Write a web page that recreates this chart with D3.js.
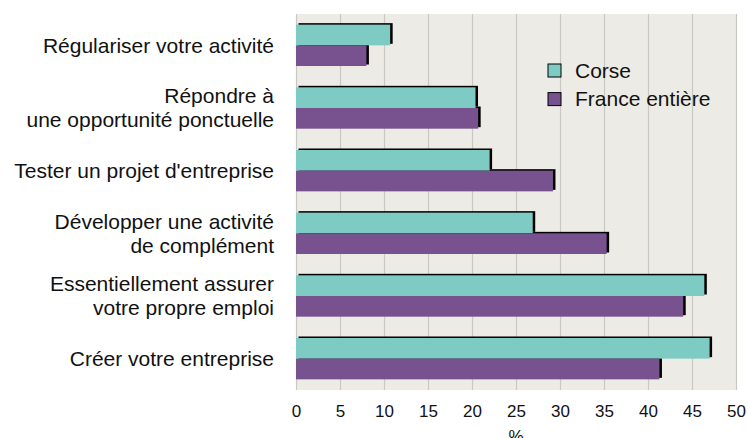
<!DOCTYPE html>
<html>
<head>
<meta charset="utf-8">
<script src="https://cdn.jsdelivr.net/npm/d3@7"></script>
<style>
  body { margin: 0; background: #fff; }
  text { font-family: "Liberation Sans", Arial, Helvetica, sans-serif; fill: #111; }
</style>
</head>
<body>
<svg id="chart"></svg>
<script>
// data
var categories = [
  ["Régulariser votre activité"],
  ["Répondre à", "une opportunité ponctuelle"],
  ["Tester un projet d'entreprise"],
  ["Développer une activité", "de complément"],
  ["Essentiellement assurer", "votre propre emploi"],
  ["Créer votre entreprise"]
];
var corse = [10.7, 20.4, 22.0, 26.9, 46.4, 47.0];
var france = [8.0, 20.7, 29.2, 35.3, 44.0, 41.3];
var seriesNames = ["Corse", "France entière"];
var seriesColors = ["#7ecbc4", "#78518f"];
var xTicks = [0, 5, 10, 15, 20, 25, 30, 35, 40, 45, 50];

var width = 748, height = 438;
var margin = {top: 14, right: 12, bottom: 48, left: 296};

var svg = d3.select("#chart")
    .attr("width", width)
    .attr("height", height);

var idx = d3.range(categories.length);

var x = d3.scaleLinear()
    .domain([0, 50])
    .range([margin.left, width - margin.right]);

var y = d3.scaleBand()
    .domain(idx)
    .range([margin.top, height - margin.bottom])
    .paddingInner(0.34)
    .paddingOuter(0.17);

var ySub = d3.scaleBand()
    .domain([0, 1])
    .range([0, y.bandwidth()]);

// plot background
svg.append("rect")
    .attr("x", x(0))
    .attr("y", margin.top)
    .attr("width", x(50) - x(0))
    .attr("height", height - margin.bottom - margin.top)
    .attr("fill", "#ecebe6");

// grid
svg.append("g")
  .selectAll("line")
  .data(xTicks)
  .join("line")
    .attr("x1", d => x(d) + 0.5)
    .attr("x2", d => x(d) + 0.5)
    .attr("y1", margin.top)
    .attr("y2", height - margin.bottom)
    .attr("stroke", "#c9c8c3")
    .attr("stroke-width", 1.2);

var rows = [];
idx.forEach(i => {
  rows.push({cat: i, s: 0, v: corse[i]});
  rows.push({cat: i, s: 1, v: france[i]});
});

// shadows first, then bars
svg.append("g")
  .selectAll("rect")
  .data(rows)
  .join("rect")
    .attr("x", x(0) + 2.5)
    .attr("y", d => y(d.cat) + ySub(d.s) - 1.5)
    .attr("width", d => x(d.v) - x(0))
    .attr("height", ySub.bandwidth())
    .attr("fill", "#000");

svg.append("g")
  .selectAll("rect")
  .data(rows)
  .join("rect")
    .attr("x", x(0))
    .attr("y", d => y(d.cat) + ySub(d.s))
    .attr("width", d => x(d.v) - x(0))
    .attr("height", ySub.bandwidth())
    .attr("fill", d => seriesColors[d.s]);

// category labels
var labels = svg.append("g")
  .selectAll("text")
  .data(idx)
  .join("text")
    .attr("text-anchor", "end")
    .attr("x", margin.left - 22)
    .attr("y", d => y(d) + y.bandwidth() / 2)
    .style("font-size", "21px");

labels.each(function(d) {
  var lines = categories[d];
  var t = d3.select(this);
  lines.forEach((ln, k) => {
    t.append("tspan")
      .attr("x", margin.left - 22)
      .attr("dy", k === 0 ? ((0.35 - (lines.length - 1) * 0.57) + "em") : "1.14em")
      .text(ln);
  });
});

// x axis
var xAxis = d3.axisBottom(x)
    .tickValues(xTicks)
    .tickSize(0)
    .tickPadding(15);

var gx = svg.append("g")
    .attr("transform", "translate(0," + (height - margin.bottom) + ")")
    .call(xAxis);
gx.select(".domain").remove();
gx.selectAll("text")
    .style("font-size", "17px")
    .style("font-family", "'Liberation Sans', Arial, sans-serif")
    .attr("fill", "#111");

svg.append("text")
    .attr("x", (x(0) + x(50)) / 2)
    .attr("y", 442)
    .attr("text-anchor", "middle")
    .style("font-size", "17px")
    .text("%");

// legend
var legend = svg.append("g")
  .selectAll("g")
  .data(seriesNames)
  .join("g")
    .attr("transform", (d, i) => "translate(548," + (64 + i * 28.6) + ")");

legend.append("rect")
    .attr("width", 13)
    .attr("height", 13)
    .attr("fill", (d, i) => seriesColors[i])
    .attr("stroke", "#000")
    .attr("stroke-width", 1);

legend.append("text")
    .attr("x", 27)
    .attr("y", 6.5)
    .attr("dy", "0.35em")
    .style("font-size", "21px")
    .text(d => d);
</script>
</body>
</html>
